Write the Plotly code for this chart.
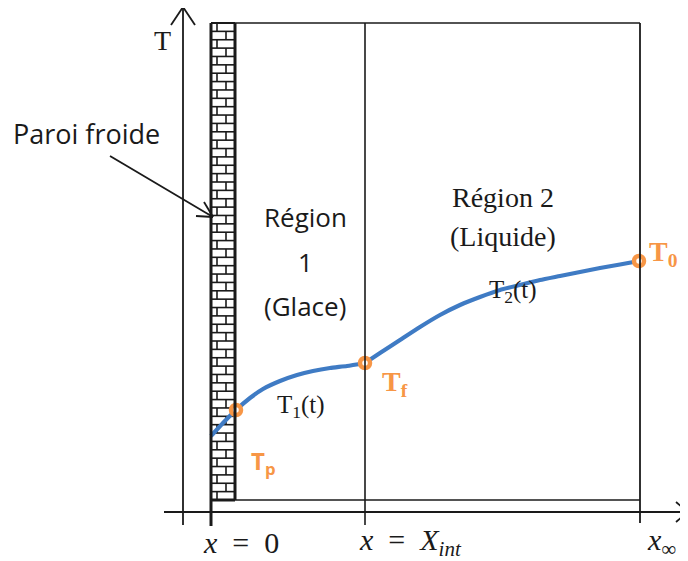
import plotly.graph_objects as go

# ---- data (diagram coordinates, pixel-like frame: x to the right, y downward) ----
curve1_x = [211, 223, 236, 250, 263, 280, 297, 313, 330, 347, 365]
curve1_y = [436, 423, 410, 398, 389, 381, 375, 371, 368, 366, 363]
curve2_x = [365, 380, 400, 420, 440, 460, 480, 500, 520, 540, 560, 580, 600, 620, 639]
curve2_y = [363, 353, 340, 327, 315, 305, 297, 290, 285, 280, 276, 272, 268, 264.5, 261]

marker_names = ["Tp", "Tf", "T0"]
marker_x = [236, 365, 639]
marker_y = [410, 363, 261]

x_positions = [211, 365, 640]            # x = 0, x = X_int, x_inf
SP = "\u2002"
x_tick_labels = [f"<i>x</i>{SP}={SP}0", f"<i>x</i>{SP}={SP}<i>X<sub>int</sub></i>", "<i>x</i><sub>∞</sub>"]

# frame geometry
axis_x = 183
axis_y = 512
wall_left, wall_right = 211, 235
frame_top, frame_bottom = 23, 500

ORANGE = "#F79646"
BLUE = "#3F7BC4"
INK = "#1a1a1a"
PAGE_OFFSET = 8  # default body margin of the html page

fig = go.Figure()
shapes = []

def seg(x0, y0, x1, y1, w=1.6, c=INK):
    shapes.append(dict(type="line", xref="x", yref="y", x0=x0, y0=y0, x1=x1, y1=y1,
                       line=dict(color=c, width=w)))

# axes
seg(axis_x, 7, axis_x, 525, 1.8)
seg(axis_x, 7, axis_x - 12, 25, 1.8)
seg(axis_x, 7, axis_x + 12, 25, 1.8)
seg(164, axis_y, 688, axis_y, 1.8)
seg(688, axis_y, 676, axis_y - 10, 1.8)
seg(688, axis_y, 676, axis_y + 10, 1.8)

# frame
seg(wall_right, frame_top, x_positions[2], frame_top, 1.6)
seg(wall_right, frame_bottom, x_positions[2], frame_bottom, 1.6)
seg(x_positions[2], frame_top, x_positions[2], 523, 1.8)
seg(x_positions[1], frame_top, x_positions[1], 525, 1.6)
seg(x_positions[0], frame_bottom, x_positions[0], 526, 3)

# brick wall
bx, by = [], []
n_rows = 57
row_h = (frame_bottom - frame_top) / n_rows
for i in range(n_rows + 1):
    y = frame_top + i * row_h
    bx += [wall_left, wall_right, None]
    by += [y, y, None]
for i in range(n_rows):
    y0 = frame_top + i * row_h
    y1 = y0 + row_h
    jx = 217 if i % 2 == 0 else 226
    bx += [jx, jx, None]
    by += [y0, y1, None]
fig.add_trace(go.Scatter(x=bx, y=by, mode="lines", line=dict(color=INK, width=1.6),
                         hoverinfo="skip", showlegend=False))
seg(wall_left, frame_top, wall_left, frame_bottom, 3)
seg(wall_right, frame_top, wall_right, frame_bottom, 3)
seg(wall_left, frame_top, wall_right, frame_top, 2)
seg(wall_left, frame_bottom, wall_right, frame_bottom, 3)

# "Paroi froide" arrow
arrow_tail = (110, 156)
arrow_tip = (213, 217)
seg(*arrow_tail, *arrow_tip, 1.8)
seg(arrow_tip[0], arrow_tip[1], 204, 202, 1.8)
seg(arrow_tip[0], arrow_tip[1], 196, 216, 1.8)

# temperature curves
for cx, cy in ((curve1_x, curve1_y), (curve2_x, curve2_y)):
    fig.add_trace(go.Scatter(x=cx, y=cy, mode="lines",
                             line=dict(color=BLUE, width=4.2, shape="spline", smoothing=0.5),
                             hoverinfo="skip", showlegend=False))
fig.add_trace(go.Scatter(x=marker_x, y=marker_y, mode="markers",
                         marker=dict(size=10, color="white", line=dict(color=ORANGE, width=4.5)),
                         hoverinfo="skip", showlegend=False))

SANS = "Open Sans"
SERIF = "Liberation Serif"
ann = []

def txt(x, y, t, size, family, color=INK, xanchor="center"):
    ann.append(dict(x=x, y=y, xref="x", yref="y", text=t, showarrow=False,
                    font=dict(size=size, family=family, color=color),
                    xanchor=xanchor, yanchor="middle"))

txt(162, 40, "T", 28, SERIF)
txt(86, 133, "Paroi froide", 27, SANS)
txt(305, 217, "Région", 26, SANS)
txt(305, 262, "1", 26, SANS)
txt(305, 306, "(Glace)", 26, SANS)
txt(503, 197, "Région 2", 28, SERIF)
txt(503, 236, "(Liquide)", 28, SERIF)
txt(301, 406, "T<sub>1</sub>(t)", 25, SERIF)
txt(513, 291, "T<sub>2</sub>(t)", 25, SERIF)

txt(263, 462, "<b>T<sub>p</sub></b>", 24, SANS, ORANGE)
txt(395, 383, "<b>T<sub>f</sub></b>", 28, SERIF, ORANGE)
txt(663, 253, "<b>T<sub>0</sub></b>", 28, SERIF, ORANGE)

label_x = [241, 410, 661]
for lx, t in zip(label_x, x_tick_labels):
    txt(lx, 542, t, 30, SERIF)

fig.update_layout(
    width=688 - PAGE_OFFSET, height=561 - PAGE_OFFSET,
    margin=dict(l=0, r=0, t=0, b=0, pad=0),
    paper_bgcolor="white", plot_bgcolor="white",
    xaxis=dict(range=[PAGE_OFFSET, 688], visible=False, fixedrange=True),
    yaxis=dict(range=[561, PAGE_OFFSET], visible=False, fixedrange=True),
    shapes=shapes, annotations=ann, showlegend=False,
)
fig.write_html("out.html")
